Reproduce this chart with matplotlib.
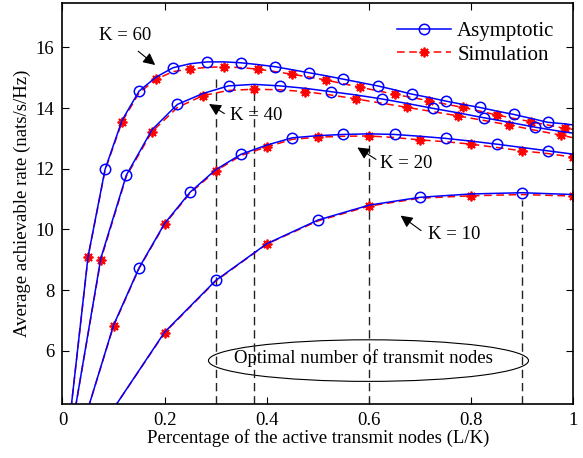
import matplotlib
matplotlib.use('Agg')
import matplotlib.pyplot as plt
from matplotlib.patches import Ellipse
import numpy as np

plt.rcParams['font.family'] = ['Liberation Serif', 'DejaVu Serif']
plt.rcParams['mathtext.fontset'] = 'stix'

# K = 60, L = 1, 3, 5, ..., 59, 60
l60 = list(range(1, 60, 2)) + [60]
asym60 = [4.1, 9.1, 11.98, 13.6, 14.56, 15.02, 15.33, 15.46, 15.52, 15.52,
          15.49, 15.43, 15.36, 15.26, 15.16, 15.06, 14.95, 14.84, 14.73, 14.60,
          14.46, 14.35, 14.23, 14.12, 14.02, 13.90, 13.79, 13.66, 13.53, 13.48,
          13.44]
sim60 = [4.1, 9.09, 11.95, 13.55, 14.5, 14.95, 15.2, 15.29, 15.34, 15.36,
         15.33, 15.28, 15.2, 15.11, 15.02, 14.92, 14.80, 14.68, 14.57, 14.45,
         14.35, 14.24, 14.13, 14.02, 13.90, 13.77, 13.66, 13.55, 13.44, 13.33,
         13.30]

# K = 40, L = 1, 3, ..., 39, 40
l40 = list(range(1, 40, 2)) + [40]
asym40 = [4.1, 9.05, 11.79, 13.28, 14.12, 14.48, 14.73, 14.78, 14.73, 14.65,
          14.54, 14.43, 14.30, 14.15, 13.99, 13.84, 13.68, 13.53, 13.37, 13.23,
          13.17]
sim40 = [4.1, 9.0, 11.75, 13.22, 14.02, 14.41, 14.58, 14.62, 14.6, 14.54,
         14.43, 14.30, 14.16, 14.02, 13.88, 13.74, 13.59, 13.44, 13.27, 13.11,
         13.02]

# K = 20, L = 1..20
l20 = list(range(1, 21))
asym20 = [4.1, 6.85, 8.74, 10.2, 11.23, 11.97, 12.48, 12.78, 13.02, 13.09,
          13.13, 13.15, 13.13, 13.07, 13.0, 12.91, 12.81, 12.70, 12.59, 12.48]
sim20 = [4.1, 6.82, 8.72, 10.17, 11.2, 11.93, 12.44, 12.72, 12.97, 13.04,
         13.07, 13.08, 13.03, 12.95, 12.89, 12.81, 12.70, 12.59, 12.50, 12.38]

# K = 10, L = 1..10
l10 = list(range(1, 11))
asym10 = [4.1, 6.62, 8.32, 9.53, 10.31, 10.80, 11.06, 11.17, 11.21, 11.15]
sim10 = [4.1, 6.6, 8.3, 9.52, 10.28, 10.77, 11.03, 11.11, 11.15, 11.10]

# optimal L/K and height of the dashed markers
opt_x = [0.3, 0.375, 0.6, 0.9]
opt_top = [15.09, 14.54, 13.0, 10.97]

curves = [(60, l60, asym60, sim60), (40, l40, asym40, sim40),
          (20, l20, asym20, sim20), (10, l10, asym10, sim10)]

fig = plt.figure(figsize=(5.83, 4.58), dpi=100)
ax = fig.add_axes([0.1072, 0.1179, 0.8762, 0.8762])

star = (8, 2, 0)
ymin = 4.25
for x0, top in zip(opt_x, opt_top):
    ax.plot([x0, x0], [ymin, top], color='#222222', lw=1.0, dashes=(6, 3.5))

for i, (K, L, a, s) in enumerate(curves):
    x = np.array(L) / K
    n = len(x)
    ax.plot(x, s, color='red', lw=1.1, dashes=(5, 3), marker=star,
            markersize=7, markeredgewidth=1.3, markevery=slice(1, n, 2),
            label='Simulation' if i == 0 else None)
    ax.plot(x, a, color='blue', lw=1.1, marker='o', markersize=7.5,
            markerfacecolor='none', markeredgewidth=1.1,
            markevery=slice(2, n - 1, 2),
            label='Asymptotic' if i == 0 else None)

fs = 13.5
arrow = dict(arrowstyle='-|>', color='k', lw=0.8, mutation_scale=18)
ax.annotate('', xy=(0.1856, 15.36), xytext=(0.1439, 15.93), arrowprops=arrow)
ax.text(0.1224, 16.40, 'K = 60', fontsize=fs, ha='center', va='center')
ax.annotate('', xy=(0.2823, 14.18), xytext=(0.3215, 13.77), arrowprops=arrow)
ax.text(0.3279, 13.74, 'K = 40', fontsize=fs, ha='left', va='center')
ax.annotate('', xy=(0.5726, 12.75), xytext=(0.6182, 12.26), arrowprops=arrow)
ax.text(0.6216, 12.18, 'K = 20', fontsize=fs, ha='left', va='center')
ax.annotate('', xy=(0.6574, 10.51), xytext=(0.7063, 9.91), arrowprops=arrow)
ax.text(0.715, 9.82, 'K = 10', fontsize=fs, ha='left', va='center')

ax.add_patch(Ellipse((0.599, 5.68), 0.6265, 1.37, fill=False,
                     edgecolor='k', lw=0.8))
ax.text(0.59, 5.75, 'Optimal number of transmit nodes', fontsize=fs,
        ha='center', va='center')

ax.set_xlim(0, 1)
ax.set_ylim(ymin, 17.47)
ax.set_xticks([0, 0.2, 0.4, 0.6, 0.8, 1])
ax.set_xticklabels(['0', '0.2', '0.4', '0.6', '0.8', '1'])
ax.set_yticks([6, 8, 10, 12, 14, 16])
ax.tick_params(direction='in', top=True, right=True, length=5,
               labelsize=fs, width=0.8, pad=6)
for sp in ax.spines.values():
    sp.set_linewidth(1.2)

ax.set_xlabel('Percentage of the active transmit nodes (L/K)', fontsize=fs,
              labelpad=0)
ax.set_ylabel('Average achievable rate (nats/s/Hz)', fontsize=fs, labelpad=3)

h, lab = ax.get_legend_handles_labels()
ax.legend([h[1], h[0]], [lab[1], lab[0]], loc='upper right', frameon=False,
          fontsize=15, handlelength=2.6, handletextpad=0.3,
          labelspacing=0.2, borderaxespad=0.5)

fig.savefig('out.png', dpi=100)
